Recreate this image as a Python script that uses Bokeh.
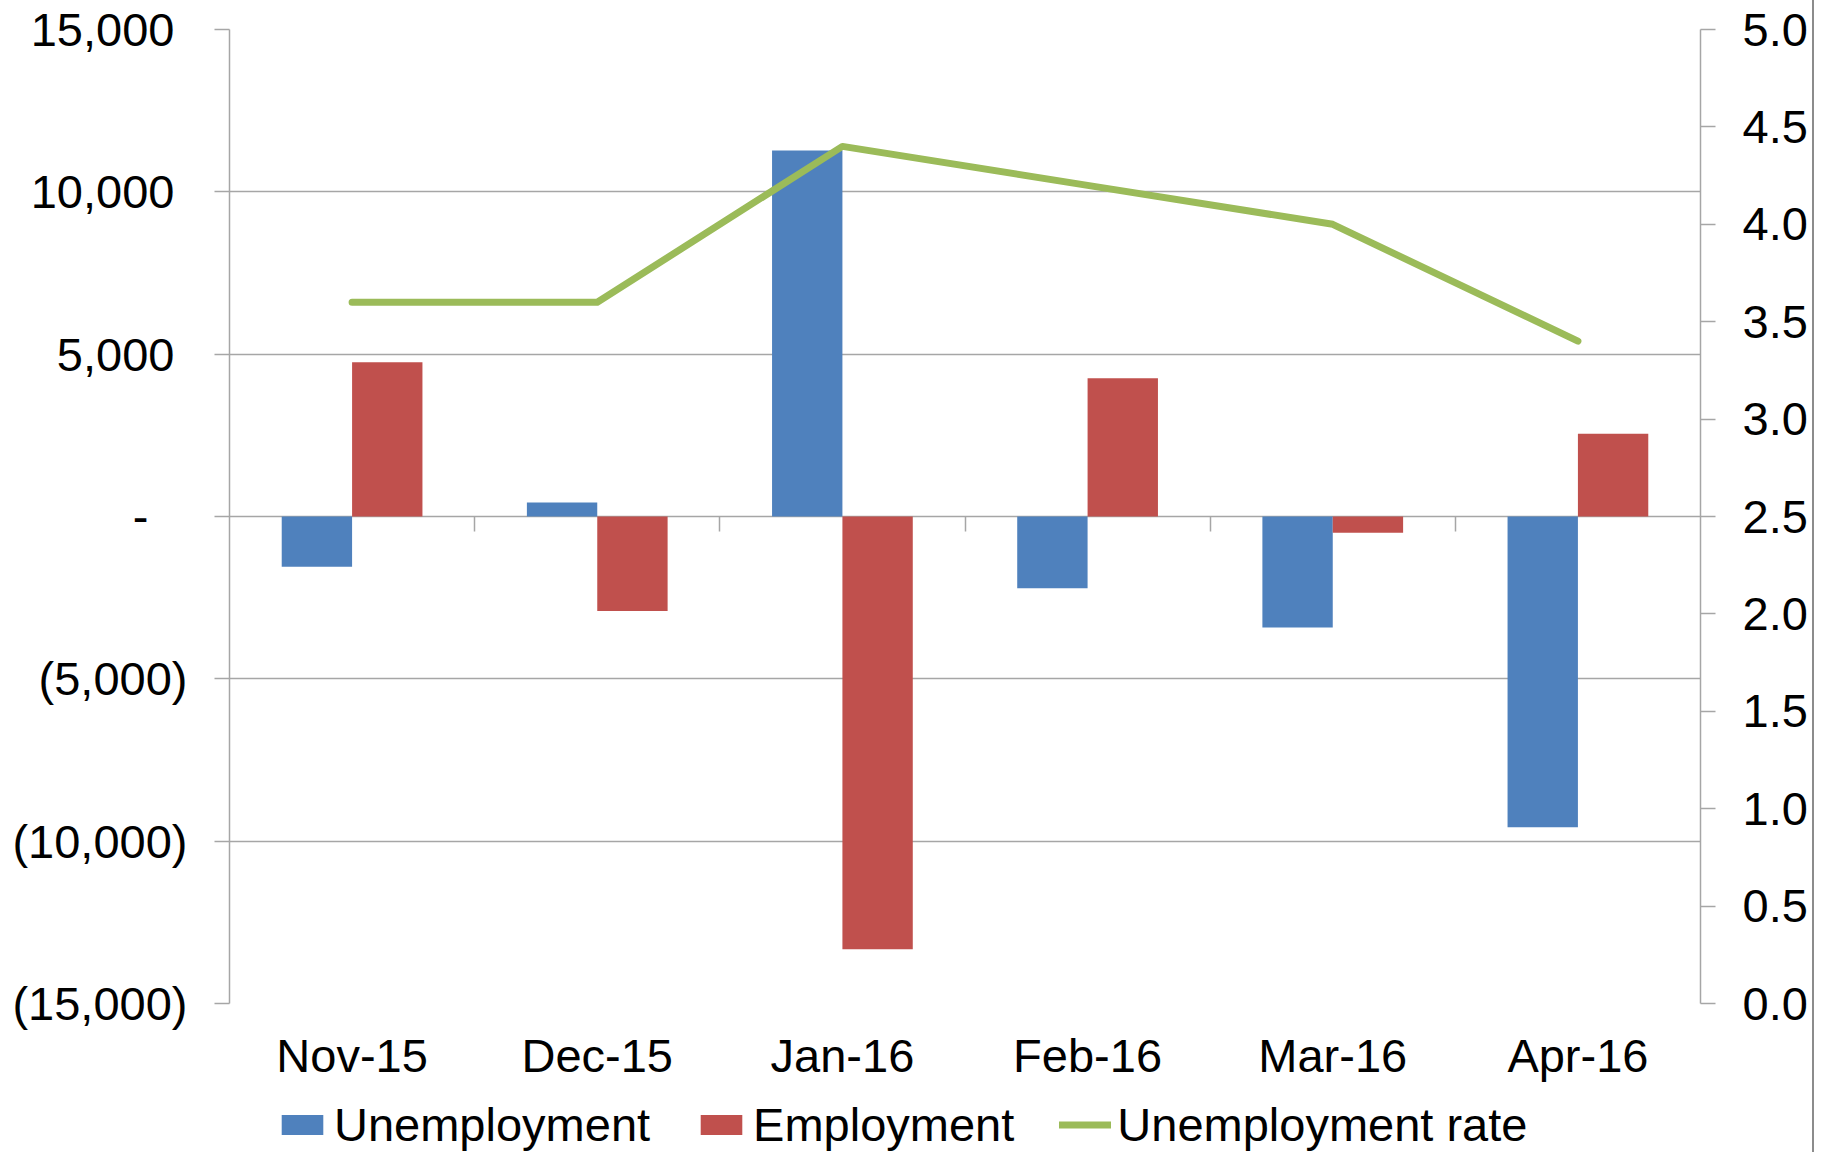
from bokeh.plotting import figure
from bokeh.layouts import column
from bokeh.models import (Range1d, LinearAxis, FixedTicker, CustomJSTickFormatter,
                          NumeralTickFormatter, Legend, LegendItem, ColumnDataSource, Grid)
from bokeh.embed import file_html
from bokeh.resources import INLINE

# ---- data ----
months = ["Nov-15", "Dec-15", "Jan-16", "Feb-16", "Mar-16", "Apr-16"]
unemployment = [-1550, 430, 11270, -2210, -3420, -9570]
employment = [4750, -2910, -13330, 4260, -500, 2550]
unemployment_rate = [3.6, 3.6, 4.4, 4.2, 4.0, 3.4]
left_ticks = [-15000, -10000, -5000, 0, 5000, 10000, 15000]
right_ticks = [0.0, 0.5, 1.0, 1.5, 2.0, 2.5, 3.0, 3.5, 4.0, 4.5, 5.0]
series_names = ["Unemployment", "Employment", "Unemployment rate"]

# ---- styles ----
FONT = "Liberation Sans"
FS = "47px"
GRAY = "#A6A6A6"
BLUE = "#4F81BD"
RED = "#C0504D"
GREEN = "#9BBB59"
BORDER = {"border-right": "2px solid #8C8C8C"}

n = len(months)
centers = [i + 0.5 for i in range(n)]
bw = 0.287
src = ColumnDataSource(dict(
    xc=centers,
    xu=[c - bw / 2 for c in centers],
    xe=[c + bw / 2 for c in centers],
    u=unemployment, e=employment, r=unemployment_rate,
))

p = figure(width=1814, height=1092,
           x_range=Range1d(0, n), y_range=Range1d(left_ticks[0], left_ticks[-1]),
           x_axis_type=None, y_axis_type=None,
           output_backend="svg", toolbar_location=None,
           min_border_left=229, min_border_right=114,
           min_border_top=29, min_border_bottom=89)
p.extra_y_ranges = {"rate": Range1d(right_ticks[0], right_ticks[-1])}
p.outline_line_color = None
p.background_fill_color = "white"
p.border_fill_color = "white"
p.styles = BORDER

p.add_layout(Grid(dimension=1, ticker=FixedTicker(ticks=left_ticks),
                  grid_line_color=GRAY, grid_line_width=1.5))

common = dict(axis_line_color=GRAY, axis_line_width=1.5,
              major_tick_line_color=GRAY, major_tick_line_width=1.5,
              major_tick_out=15, major_tick_in=0, minor_tick_line_color=None,
              major_label_text_font=FONT, major_label_text_font_size=FS,
              major_label_text_color="black")

left_fmt = CustomJSTickFormatter(code="""
if (Math.abs(tick) < 1e-9) return "-\\u00a0\\u00a0\\u00a0";
const s = Math.abs(tick).toLocaleString('en-US');
return tick < 0 ? "(" + s + ")" : s + "\\u00a0";
""")
yleft = LinearAxis(ticker=FixedTicker(ticks=left_ticks), formatter=left_fmt,
                   major_label_standoff=27, **common)
p.add_layout(yleft, "left")

yright = LinearAxis(y_range_name="rate", ticker=FixedTicker(ticks=right_ticks),
                    formatter=NumeralTickFormatter(format="0.0"),
                    major_label_standoff=27, **common)
p.add_layout(yright, "right")

# category labels at the bottom
cat_axis = LinearAxis(ticker=FixedTicker(ticks=centers),
                      formatter=CustomJSTickFormatter(args=dict(months=months),
                                                      code="return months[Math.floor(tick)]"),
                      axis_line_color=None, major_tick_line_color=None,
                      major_tick_out=0, major_tick_in=0, minor_tick_line_color=None,
                      major_label_standoff=25, major_label_text_font=FONT,
                      major_label_text_font_size=FS, major_label_text_color="black")
p.add_layout(cat_axis, "below")

# category separators on the zero line
zero_axis = LinearAxis(fixed_location=0, ticker=FixedTicker(ticks=list(range(1, n))),
                       formatter=CustomJSTickFormatter(code="return ''"),
                       axis_line_color=None, major_tick_line_color=GRAY,
                       major_tick_line_width=1.5, major_tick_out=15, major_tick_in=0,
                       minor_tick_line_color=None, major_label_text_font_size="1px")
p.add_layout(zero_axis, "below")

p.vbar(x="xu", top="u", bottom=0, width=bw, source=src,
       fill_color=BLUE, line_color=None)
p.vbar(x="xe", top="e", bottom=0, width=bw, source=src,
       fill_color=RED, line_color=None)
p.line(x="xc", y="r", source=src, y_range_name="rate",
       line_color=GREEN, line_width=7, line_join="round", line_cap="round")

# ---- legend strip (placeholder renderers with no drawable points) ----
lg = figure(width=1814, height=60, x_range=Range1d(0, 1), y_range=Range1d(0, 1),
            x_axis_type=None, y_axis_type=None,
            output_backend="svg", toolbar_location=None,
            min_border_left=229, min_border_right=114, min_border_top=0, min_border_bottom=0)
lg.outline_line_color = None
lg.grid.visible = False
lg.styles = BORDER
nan = float("nan")
dummy = ColumnDataSource(dict(x=[nan], y=[nan]))
lb = lg.vbar(x="x", top="y", width=0.1, source=dummy, fill_color=BLUE, line_color=None)
lr = lg.vbar(x="x", top="y", width=0.1, source=dummy, fill_color=RED, line_color=None)
ll = lg.line(x="x", y="y", source=dummy, line_color=GREEN, line_width=7, line_cap="round")

legend = Legend(items=[LegendItem(label=series_names[0], renderers=[lb]),
                       LegendItem(label=series_names[1], renderers=[lr]),
                       LegendItem(label=series_names[2], renderers=[ll])],
                orientation="horizontal", location=(47, 0),
                glyph_width=52, glyph_height=25, label_standoff=6, spacing=45,
                padding=0, margin=0, border_line_color=None,
                background_fill_alpha=0,
                label_text_font=FONT, label_text_font_size=FS,
                label_text_color="black")
lg.add_layout(legend)

layout = column(p, lg, spacing=0)
open("out.html", "w").write(file_html(layout, INLINE))
